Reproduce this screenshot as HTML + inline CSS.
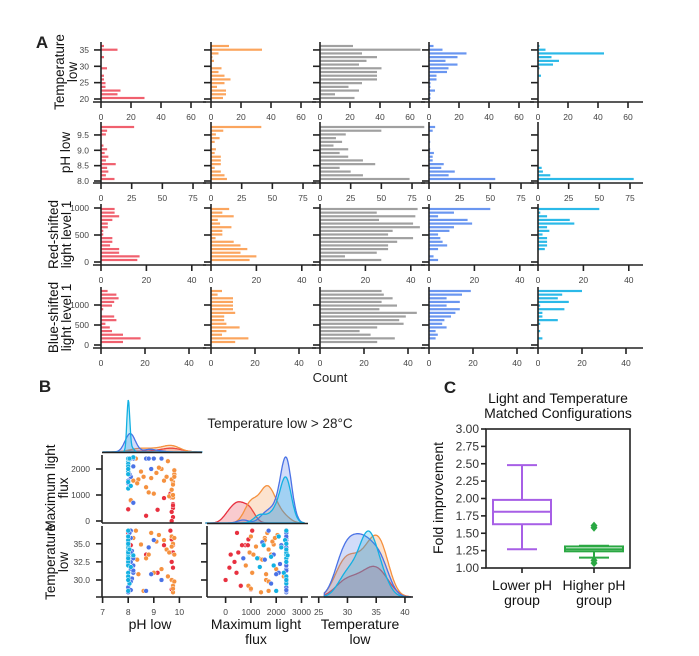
<!DOCTYPE html>
<html><head><meta charset="utf-8">
<style>
html,body{margin:0;padding:0;background:#fff;}
svg{display:block;font-family:"Liberation Sans",sans-serif;}
</style></head>
<body>
<svg id="fig" width="699" height="656" viewBox="0 0 699 656" xmlns="http://www.w3.org/2000/svg"></svg>
<script>
// ---------- Panel A data (counts per bin, top bin first) ----------
const groupColors = ['#f0606e','#fba55e','#a0a0a0','#6a96f0','#2bb9e8'];
const tempCounts = [
 [2,11,0,2,0,0,4,0,2,2,3,3,13,11,29],
 [12,34,5,1,2,0,7,5,9,13,9,4,10,10,8],
 [22,67,28,38,31,26,41,38,38,38,28,19,26,10,23],
 [3,9,25,19,11,19,13,12,5,5,1,1,4,1,1],
 [1,5,44,9,14,10,1,0,2,0,0,0,0,0,0]];
const phCounts = [
 [27,5,4,0,0,2,5,3,6,4,12,5,6,4,11],
 [41,10,4,7,3,0,4,3,8,8,8,3,8,11,13],
 [85,50,21,13,18,11,23,16,23,35,45,16,25,35,73],
 [5,3,0,0,1,0,1,4,3,3,12,10,21,16,54],
 [0,0,0,0,0,0,0,0,0,0,0,3,4,10,78]];
const redCounts = [
 [6,6,8,5,3,3,1,1,5,5,4,8,8,17,16],
 [8,5,10,3,4,9,5,5,2,10,13,16,13,20,17],
 [43,25,42,26,41,44,32,30,41,34,30,30,25,11,27],
 [27,11,4,17,19,11,9,4,5,6,8,4,0,2,4],
 [27,1,4,14,16,4,5,2,4,4,4,3,0,0,0]];
const blueCounts = [
 [3,7,8,6,5,1,0,6,7,2,4,5,10,18,10],
 [5,3,10,10,10,10,11,6,6,7,13,7,5,17,11],
 [28,29,33,28,35,27,44,39,36,38,26,18,23,34,26],
 [19,15,8,14,8,14,12,10,7,6,8,3,4,3,0],
 [20,11,9,14,1,12,2,2,9,1,0,1,0,2,0]];
const tempYTicks = [20,25,30,35];
const phYTicks = [8.0,8.5,9.0,9.5];
const redYTicks = [0,500,1000];
const blueYTicks = [0,500,1000];
const xTicksA1 = [0,20,40,60];
const xTicksA2 = [0,25,50,75];
const xTicksA3 = [0,20,40];

// ---------- Panel B data ----------
const cyanPH=[8.0,8.0,8.0,8.0,8.0,8.0,8.0,8.0,8.0,8.0,8.0,8.0,8.05,8.0,8.0,8.1,8.0,8.0,8.2,8.0,8.0,8.05];
const cyanLight=[2400,2400,2400,2350,2400,2300,2200,2400,2400,2100,1900,1800,2400,1500,1250,1350,2400,2400,2450,2400,2000,2400];
const cyanTemp=[33.5,34.0,33.0,35.5,32.5,31.0,34.5,30.5,33.8,36.0,32.0,33.2,29.5,34.8,33.0,31.8,35.0,36.8,33.4,30.0,28.5,34.2];
const bluePH=[8.0,8.0,8.0,8.1,8.2,8.1,8.15,8.7,9.0,9.3,8.1,8.0,8.0,8.1,8.2,8.05,8.9,8.1,8.0,8.0,8.05,8.15,8.1,8.2,8.8,8.1,8.0,8.1,8.2,8.0];
const blueLight=[2400,2400,2400,2400,2400,2400,2400,2400,2400,2400,2400,2200,1900,1700,2100,1800,2000,2400,1550,1450,2400,2400,2400,2400,2400,2400,2150,2400,700,2400];
const blueTemp=[28.3,29.0,30.5,31.5,32.0,33.0,34.0,28.5,35.5,30.0,32.5,34.8,33.5,36.8,31.0,29.5,30.8,33.8,32.8,35.2,36.5,30.2,28.6,31.3,34.5,29.8,32.2,35.8,33.0,36.0];
const orangePH=[8.2,8.3,8.5,8.7,8.9,9.1,9.3,9.5,9.7,9.75,9.8,9.7,9.75,8.4,8.6,9.0,9.4,9.6,9.8,9.75,8.1,8.8,9.2,9.7,9.75,8.35,9.55,9.8];
const orangeLight=[1550,2400,1900,1300,1650,1850,2000,1700,1000,1500,1800,1600,900,1600,1700,1050,1550,950,1700,1400,800,1100,2050,1200,1000,1450,2300,1950];
const orangeTemp=[35.8,36.8,34.9,33.0,36.5,35.3,31.5,34.2,36.0,35.0,33.5,30.0,29.2,30.8,28.5,31.0,35.5,33.8,29.8,28.3,32.0,33.5,36.2,34.6,28.8,32.8,30.5,35.8];
const redPH=[8.0,8.1,8.7,9.15,9.4,9.65,9.7,9.75,9.75,9.7,9.75,9.7,9.75,9.7];
const redLight=[450,780,200,430,880,1050,900,650,500,350,150,0,600,1000];
const redTemp=[36.5,34.8,33.5,31.0,34.8,36.8,35.6,34.8,33.8,32.5,31.7,30.0,29.2,28.7];
const phTicksB=[7,8,9,10];
const lightTicksB=[0,1000,2000,3000];
const tempTicksB=[25,30,35,40];
const lightYTicksB=[0,1000,2000];
const tempYTicksB=[30.0,32.5,35.0];

// ---------- Panel C data ----------
const boxGroups=['Lower pH','Higher pH'];
const boxQ1=[1.63,1.24];
const boxMed=[1.81,1.27];
const boxQ3=[1.98,1.31];
const boxLo=[1.27,1.15];
const boxHi=[2.48,1.32];
const boxOutliers=[[],[1.58,1.61,1.07,1.11]];
const boxYTicks=[1.00,1.25,1.50,1.75,2.00,2.25,2.50,2.75,3.00];

const NS='http://www.w3.org/2000/svg';
const svg=document.getElementById('fig');
function mk(tag,attrs,parent){const e=document.createElementNS(NS,tag);for(const k in attrs)e.setAttribute(k,attrs[k]);(parent||svg).appendChild(e);return e;}
function txt(x,y,s,size,anchor,parent,extra){const t=mk('text',Object.assign({x:x,y:y,'font-size':size,'text-anchor':anchor||'middle',fill:'#222'},extra||{}),parent);t.textContent=s;return t;}
function ax(x1,y1,x2,y2,p){mk('line',{x1:x1,y1:y1,x2:x2,y2:y2,stroke:'#222','stroke-width':1.6},p);}
function multi(x,y,lines,rot,name,step,size){const t=mk('text',{transform:`translate(${x},${y})${rot?' rotate(-90)':''}`,'font-size':size||14,'text-anchor':'middle',fill:'#111'});
 
 lines.forEach((s,i)=>{const ts=mk('tspan',{x:0,dy:i==0?0:(step||15)},t);ts.textContent=s;});}

// ---------- Panel A ----------
const colX=[101,211,320,429,538];
const labelX=[64,70,58,58];
const rowsA=[
 {data:tempCounts,top:42,axisY:102,first:46,last:98,ppu:1.5,xt:xTicksA1,yt:tempYTicks,yf:v=>99-(v-20)*3.27,fmt:v=>String(v),label:['Temperature','low'],name:'temperature-low'},
 {data:phCounts,top:122,axisY:183,first:127,last:179,ppu:1.227,xt:xTicksA2,yt:phYTicks,yf:v=>181-(v-8)*30.7,fmt:v=>v.toFixed(1),label:['pH low'],name:'ph-low'},
 {data:redCounts,top:204,axisY:265,first:209,last:260,ppu:2.27,xt:xTicksA3,yt:redYTicks,yf:v=>262-v*0.054,fmt:v=>String(v),label:['Red-shifted','light level 1'],name:'red-shifted'},
 {data:blueCounts,top:287,axisY:348,first:291,last:342,ppu:2.2,xt:xTicksA3,yt:blueYTicks,yf:v=>345-v*0.04,fmt:v=>String(v),label:['Blue-shifted','light level 1'],name:'blue-shifted'}];
rowsA.forEach((r,ri)=>{
  const cy=(r.top+r.axisY)/2;
  multi(labelX[ri],cy,r.label,true,r.name+'-row-label',13,13.5);
  colX.forEach((x0,ci)=>{
    const g=mk('g',{});
    
    
    const vals=r.data[ci];const n=vals.length;
    vals.forEach((v,i)=>{
      const y=r.first+(r.last-r.first)*i/(n-1);
      if(v>0){const b=mk('rect',{x:x0,y:y-1.1,width:v*r.ppu,height:2.2,fill:groupColors[ci]},g);
      
      }
    });
    ax(x0,r.top,x0,r.axisY,g);
    ax(x0-8,r.axisY,x0+105,r.axisY,g);
    r.yt.forEach(v=>{const y=r.yf(v);ax(x0-7,y,x0,y,g);
      if(ci==0)txt(x0-12,y+3,r.fmt(v),8.5,'end',g,{fill:'#444'});});
    r.xt.forEach(v=>{const x=x0+v*r.ppu;ax(x,r.axisY,x,r.axisY+6,g);
      txt(x,r.axisY+18,String(v),8.5,'middle',g,{fill:'#444'});});
  });
});
const aL=txt(42,48,'A',17,'middle');aL.setAttribute('font-weight','bold');

const cnt=txt(330,382,'Count',13);

// ---------- Panel B ----------
const groupsB=[
 {ph:redPH,li:redLight,te:redTemp,c:'#e8303f'},
 {ph:orangePH,li:orangeLight,te:orangeTemp,c:'#f5913f'},
 {ph:bluePH,li:blueLight,te:blueTemp,c:'#4a72e6'},
 {ph:cyanPH,li:cyanLight,te:cyanTemp,c:'#12b0e2'}];
const xPH=v=>102.6+(v-7)*25.6;
const xLi=v=>225.6+v*0.0253;
const xTe=v=>318.7+(v-25)*5.75;
const yLi=v=>521-v*0.026;
const yTe=v=>580-(v-30)*7.25;
const bL=txt(45,392,'B',17,'middle');bL.setAttribute('font-weight','bold');

const bt=txt(280,428,'Temperature low > 28°C',13.5);

function kde(vals,bw,x){let s=0;for(const v of vals){const z=(x-v)/bw;s+=Math.exp(-0.5*z*z);}return s/(vals.length*bw*Math.sqrt(2*Math.PI));}
function scottBW(vals,minbw){const n=vals.length;const m=vals.reduce((a,b)=>a+b,0)/n;const sd=Math.sqrt(vals.reduce((a,b)=>a+(b-m)*(b-m),0)/(n-1));return Math.max(minbw,1.06*sd*Math.pow(n,-0.2));}
function drawKDE(name,key,minbw,lo,hi,xf,base,height){
  const g=mk('g',{});
  
  
  const total=groupsB.reduce((a,gr)=>a+gr[key].length,0);
  const N=160;let mx=0;const curves=groupsB.map(gr=>{const bw=scottBW(gr[key],minbw);const w=gr[key].length/total;const pts=[];for(let i=0;i<=N;i++){const v=lo+(hi-lo)*i/N;const d=kde(gr[key],bw,v)*w;pts.push([v,d]);if(d>mx)mx=d;}return pts;});
  curves.forEach((pts,gi)=>{
    const sc=height/mx;
    let d=`M${xf(pts[0][0])},${base}`;pts.forEach(p=>{d+=` L${xf(p[0]).toFixed(1)},${(base-p[1]*sc).toFixed(1)}`;});d+=` L${xf(pts[N][0])},${base}Z`;
    const p=mk('path',{d:d,fill:groupsB[gi].c,'fill-opacity':0.25,stroke:groupsB[gi].c,'stroke-width':1.3},g);
    
    
  });
  return g;
}
drawKDE('kde-ph-low','ph',0.055,7.0,10.9,xPH,452,52);
ax(102,452.5,202,452.5);
drawKDE('kde-max-light','li',60,-800,3100,xLi,523,66);
ax(207,523.5,308,523.5);
drawKDE('kde-temp-low','te',0.6,26,41,xTe,597,66);

function scatter(name,xk,yk,xf,yf){
  const g=mk('g',{});
  
  
  groupsB.forEach(gr=>{gr[xk].forEach((v,i)=>{
    const c=mk('circle',{cx:xf(v).toFixed(1),cy:yf(gr[yk][i]).toFixed(1),r:2.4,fill:gr.c,stroke:'#fff','stroke-width':0.5},g);
    
    
  });});
}
scatter('scatter-light-vs-ph','ph','li',xPH,yLi);
scatter('scatter-temp-vs-ph','ph','te',xPH,yTe);
scatter('scatter-temp-vs-light','li','te',xLi,yTe);

ax(102,455,102,523);ax(102,523,202,523);
ax(102,526,102,597);ax(96,597,202,597);
ax(207,526,207,597);ax(207,597,308,597);
ax(311,597,413,597);
lightYTicksB.forEach(v=>{ax(96,yLi(v),102,yLi(v));txt(90,yLi(v)+3,String(v),8.5,'end',null,{fill:'#444'});});
tempYTicksB.forEach(v=>{ax(96,yTe(v),102,yTe(v));ax(201,yTe(v),207,yTe(v));txt(90,yTe(v)+3,v.toFixed(1),8.5,'end',null,{fill:'#444'});});
phTicksB.forEach(v=>{ax(xPH(v),597,xPH(v),603);txt(xPH(v),615,String(v),8.5,'middle',null,{fill:'#444'});});
lightTicksB.forEach(v=>{ax(xLi(v),597,xLi(v),603);txt(xLi(v),615,String(v),8.5,'middle',null,{fill:'#444'});});
tempTicksB.forEach(v=>{ax(xTe(v),597,xTe(v),603);txt(xTe(v),615,String(v),8.5,'middle',null,{fill:'#444'});});
multi(150,629,['pH low'],false,'x-title-ph-low');
multi(256,629,['Maximum light','flux'],false,'x-title-max-light');
multi(360,629,['Temperature','low'],false,'x-title-temp-low');
multi(55,488,['Maximum light','flux'],true,'y-title-max-light',13,13.5);
multi(55,562,['Temperature','low'],true,'y-title-temp-low',13,13.5);

// ---------- Panel C ----------
const cL=txt(450,393,'C',17,'middle');cL.setAttribute('font-weight','bold');

multi(558,403,['Light and Temperature','Matched Configurations'],false,'panel-c-title');
const yC=v=>568-(v-1)*69.5;
mk('rect',{x:486,y:429,width:144,height:139,fill:'none',stroke:'#222','stroke-width':1.6});
boxYTicks.forEach(v=>{ax(481,yC(v),486,yC(v));txt(479,yC(v)+4,v.toFixed(2),12,'end',null,{fill:'#333'});});
multi(443,498,['Fold improvement'],true,'y-title-fold-improvement');
const boxX=[522,594];const boxCol=['#a75fe6','#2aa843'];
boxGroups.forEach((name,i)=>{
  const g=mk('g',{});
  
  
  const cx=boxX[i],c=boxCol[i],w=29;
  mk('line',{x1:cx,y1:yC(boxHi[i]),x2:cx,y2:yC(boxQ3[i]),stroke:c,'stroke-width':2},g);
  mk('line',{x1:cx,y1:yC(boxQ1[i]),x2:cx,y2:yC(boxLo[i]),stroke:c,'stroke-width':2},g);
  mk('line',{x1:cx-15,y1:yC(boxHi[i]),x2:cx+15,y2:yC(boxHi[i]),stroke:c,'stroke-width':2},g);
  mk('line',{x1:cx-15,y1:yC(boxLo[i]),x2:cx+15,y2:yC(boxLo[i]),stroke:c,'stroke-width':2},g);
  mk('rect',{x:cx-w,y:yC(boxQ3[i]),width:2*w,height:yC(boxQ1[i])-yC(boxQ3[i]),fill:'#fff',stroke:c,'stroke-width':2},g);
  mk('line',{x1:cx-w,y1:yC(boxMed[i]),x2:cx+w,y2:yC(boxMed[i]),stroke:c,'stroke-width':2},g);
  boxOutliers[i].forEach(v=>{const y=yC(v);const o=mk('path',{d:`M${cx},${y-4} L${cx+3.5},${y} L${cx},${y+4} L${cx-3.5},${y}Z`,fill:c},g);
    });
  ax(cx,568,cx,573);
  multi(cx,590,[name,'group'],false,'x-label-'+(i==0?'lower':'higher')+'-ph');
});
</script>
</body></html>
